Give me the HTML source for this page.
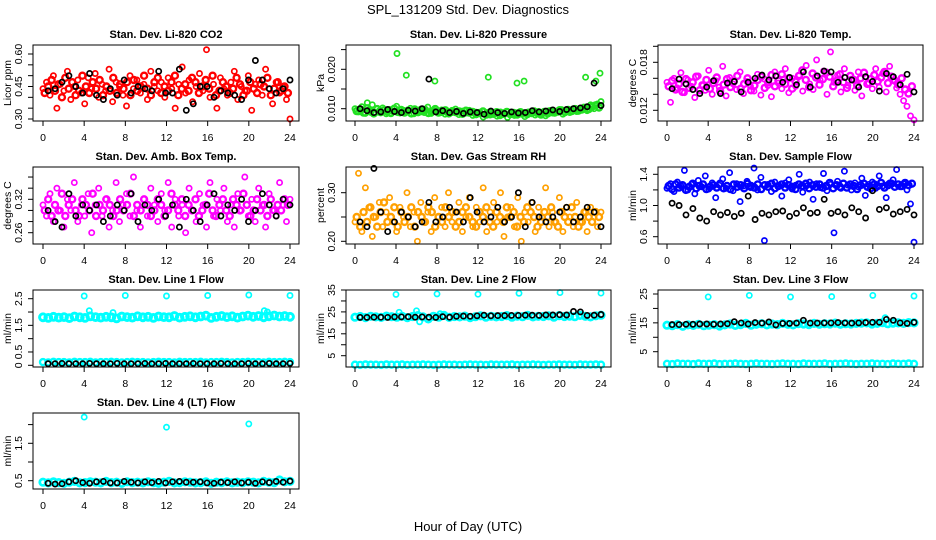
<!DOCTYPE html>
<html><head><meta charset="utf-8"><style>
html,body{margin:0;padding:0;background:#fff;}
svg{display:block;font-family:"Liberation Sans",sans-serif;}
</style></head><body>
<svg id="chart" width="936" height="540" viewBox="0 0 936 540" xmlns="http://www.w3.org/2000/svg">
<rect width="936" height="540" fill="#fff"/>
<text x="468" y="14" font-size="13" text-anchor="middle">SPL_131209  Std. Dev. Diagnostics</text>
<text x="468" y="531" font-size="13" text-anchor="middle">Hour of Day (UTC)</text>
</svg>
<script>
// ---------- data ----------
const hourTicks = [0,4,8,12,16,20,24];

const co2Red = [0.44,0.47,0.41,0.50,0.35,0.46,0.43,0.52,0.39,0.45,0.48,0.42,0.37,0.49,0.44,0.51,0.40,0.46,0.43,0.53,0.38,0.47,0.45,0.41,0.36,0.50,0.44,0.48,0.42,0.46,0.39,0.52,0.45,0.43,0.47,0.40,0.49,0.44,0.35,0.46,0.54,0.42,0.48,0.38,0.45,0.51,0.43,0.62,0.40,0.46,0.35,0.49,0.44,0.41,0.47,0.52,0.39,0.45,0.43,0.50,0.34,0.46,0.48,0.41,0.53,0.44,0.37,0.47,0.42,0.45,0.39,0.30];
const co2Red2 = [0.42,0.45,0.48,0.43,0.46,0.40,0.49,0.44,0.47,0.41,0.43,0.50,0.45,0.42,0.47,0.44,0.48,0.41,0.45,0.43,0.49,0.42,0.46,0.44,0.47,0.41,0.48,0.43,0.45,0.50,0.44,0.41,0.47,0.49,0.42,0.45,0.43,0.47,0.50,0.41,0.44,0.46,0.43,0.49,0.47,0.42,0.45,0.48,0.44,0.50,0.41,0.43,0.47,0.45,0.42,0.44,0.49,0.46,0.41,0.43,0.47,0.44,0.42,0.46,0.45,0.49,0.41,0.44,0.47,0.43,0.45,0.42];
const co2Black = [0.43,0.44,0.47,0.50,0.45,0.42,0.51,0.41,0.39,0.44,0.41,0.48,0.42,0.45,0.44,0.43,0.52,0.42,0.42,0.53,0.34,0.37,0.45,0.45,0.40,0.43,0.42,0.41,0.39,0.48,0.57,0.48,0.44,0.42,0.44,0.48];

const presGreen = [0.0100,0.0092,0.0105,0.0088,0.0097,0.0110,0.0090,0.0095,0.0102,0.0087,0.0098,0.0093,0.0106,0.0089,0.0096,0.0091,0.0101,0.0087,0.0094,0.0099,0.0090,0.0104,0.0088,0.0095,0.0092,0.0097,0.0086,0.0093,0.0090,0.0099,0.0085,0.0094,0.0089,0.0096,0.0083,0.0091,0.0087,0.0079,0.0090,0.0084,0.0088,0.0081,0.0092,0.0085,0.0078,0.0089,0.0083,0.0090,0.0086,0.0080,0.0092,0.0087,0.0084,0.0093,0.0088,0.0082,0.0095,0.0089,0.0091,0.0098,0.0086,0.0094,0.0090,0.0100,0.0093,0.0097,0.0104,0.0095,0.0110,0.0100,0.0112,0.0118];
const presGreen2 = [0.0094,0.0098,0.0090,0.0101,0.0093,0.0088,0.0099,0.0091,0.0096,0.0093,0.0089,0.0100,0.0092,0.0097,0.0090,0.0095,0.0088,0.0098,0.0091,0.0094,0.0097,0.0089,0.0093,0.0099,0.0090,0.0092,0.0096,0.0088,0.0094,0.0091,0.0093,0.0087,0.0095,0.0090,0.0092,0.0086,0.0089,0.0093,0.0085,0.0090,0.0087,0.0091,0.0084,0.0088,0.0092,0.0086,0.0089,0.0085,0.0091,0.0088,0.0086,0.0090,0.0093,0.0089,0.0085,0.0092,0.0088,0.0094,0.0090,0.0093,0.0096,0.0091,0.0097,0.0094,0.0099,0.0095,0.0098,0.0102,0.0099,0.0105,0.0108,0.0103];
const presSpikeHour = [1.2,4.1,5.0,7.8,12.1,13.0,15.8,16.5,20.1,22.5,23.5,23.9];
const presSpikeVal = [0.0115,0.0240,0.0185,0.0170,0.0265,0.0180,0.0165,0.0170,0.0265,0.0180,0.0170,0.0190];
const presBlack = [0.0100,0.0095,0.0090,0.0092,0.0098,0.0093,0.0090,0.0096,0.0094,0.0100,0.0175,0.0092,0.0095,0.0090,0.0093,0.0088,0.0092,0.0090,0.0086,0.0094,0.0090,0.0088,0.0092,0.0089,0.0090,0.0095,0.0092,0.0094,0.0097,0.0093,0.0098,0.0100,0.0102,0.0105,0.0165,0.0108];

const tempMag = [0.0155,0.0130,0.0160,0.0148,0.0167,0.0142,0.0158,0.0150,0.0136,0.0163,0.0152,0.0145,0.0170,0.0140,0.0157,0.0149,0.0175,0.0138,0.0161,0.0153,0.0146,0.0168,0.0141,0.0156,0.0150,0.0144,0.0165,0.0139,0.0159,0.0151,0.0137,0.0168,0.0154,0.0147,0.0172,0.0142,0.0160,0.0150,0.0164,0.0144,0.0176,0.0153,0.0146,0.0183,0.0158,0.0169,0.0140,0.0193,0.0155,0.0164,0.0143,0.0172,0.0151,0.0159,0.0145,0.0168,0.0138,0.0162,0.0154,0.0147,0.0172,0.0149,0.0166,0.0143,0.0175,0.0158,0.0148,0.0140,0.0132,0.0125,0.0113,0.0108];
const tempMag2 = [0.0150,0.0157,0.0146,0.0153,0.0143,0.0159,0.0148,0.0155,0.0162,0.0145,0.0151,0.0158,0.0147,0.0154,0.0161,0.0144,0.0152,0.0159,0.0149,0.0156,0.0163,0.0147,0.0153,0.0160,0.0145,0.0151,0.0158,0.0162,0.0148,0.0155,0.0164,0.0150,0.0157,0.0165,0.0153,0.0160,0.0147,0.0156,0.0163,0.0170,0.0158,0.0149,0.0166,0.0161,0.0152,0.0159,0.0167,0.0162,0.0150,0.0157,0.0165,0.0155,0.0148,0.0163,0.0158,0.0151,0.0160,0.0167,0.0153,0.0159,0.0164,0.0156,0.0161,0.0168,0.0154,0.0162,0.0157,0.0152,0.0160,0.0146,0.0141,0.0150];
const tempBlack = [0.0147,0.0159,0.0153,0.0146,0.0141,0.0149,0.0157,0.0141,0.0154,0.0156,0.0143,0.0155,0.0160,0.0164,0.0158,0.0163,0.0155,0.0161,0.0152,0.0168,0.0149,0.0163,0.0169,0.0168,0.0155,0.0161,0.0158,0.0149,0.0162,0.0156,0.0144,0.0166,0.0162,0.0152,0.0165,0.0143];

const ambMag = [0.31,0.29,0.33,0.28,0.34,0.30,0.27,0.32,0.30,0.35,0.28,0.31,0.29,0.33,0.26,0.31,0.34,0.29,0.32,0.27,0.30,0.35,0.28,0.31,0.33,0.29,0.36,0.30,0.27,0.32,0.29,0.34,0.31,0.28,0.33,0.30,0.35,0.27,0.32,0.29,0.31,0.26,0.34,0.30,0.28,0.33,0.31,0.27,0.35,0.29,0.32,0.30,0.34,0.28,0.31,0.27,0.33,0.30,0.36,0.29,0.32,0.28,0.34,0.31,0.27,0.33,0.30,0.29,0.35,0.31,0.28,0.32];
const ambMag2 = [0.30,0.32,0.29,0.31,0.30,0.33,0.29,0.31,0.32,0.30,0.29,0.32,0.31,0.30,0.33,0.29,0.31,0.30,0.32,0.31,0.29,0.30,0.32,0.30,0.31,0.33,0.29,0.31,0.30,0.32,0.31,0.29,0.30,0.32,0.31,0.29,0.30,0.33,0.31,0.30,0.32,0.29,0.31,0.30,0.32,0.29,0.30,0.31,0.33,0.30,0.29,0.31,0.32,0.30,0.29,0.32,0.31,0.30,0.33,0.31,0.29,0.30,0.32,0.30,0.31,0.29,0.32,0.30,0.31,0.30,0.32,0.31];
const ambBlack = [0.30,0.28,0.27,0.33,0.29,0.31,0.30,0.31,0.28,0.29,0.31,0.30,0.33,0.28,0.31,0.30,0.32,0.29,0.31,0.27,0.32,0.30,0.28,0.31,0.33,0.29,0.31,0.30,0.32,0.28,0.30,0.33,0.31,0.29,0.32,0.31];

const rhOrange = [0.24,0.34,0.22,0.31,0.27,0.21,0.25,0.28,0.23,0.26,0.29,0.24,0.22,0.27,0.25,0.30,0.23,0.26,0.20,0.28,0.24,0.26,0.22,0.29,0.25,0.27,0.23,0.30,0.24,0.26,0.28,0.22,0.25,0.29,0.23,0.27,0.24,0.31,0.22,0.26,0.28,0.24,0.30,0.21,0.25,0.27,0.23,0.29,0.20,0.26,0.24,0.28,0.22,0.27,0.25,0.31,0.23,0.26,0.24,0.29,0.22,0.27,0.25,0.23,0.28,0.24,0.26,0.22,0.27,0.25,0.23,0.26];
const rhOrange2 = [0.25,0.23,0.26,0.24,0.27,0.25,0.23,0.26,0.28,0.24,0.25,0.27,0.23,0.26,0.24,0.25,0.27,0.23,0.26,0.25,0.24,0.27,0.26,0.23,0.25,0.24,0.27,0.25,0.26,0.23,0.24,0.26,0.27,0.25,0.24,0.23,0.26,0.25,0.27,0.24,0.23,0.26,0.25,0.24,0.27,0.25,0.26,0.23,0.25,0.24,0.27,0.26,0.25,0.23,0.24,0.26,0.25,0.27,0.24,0.23,0.26,0.25,0.24,0.27,0.25,0.23,0.24,0.26,0.25,0.24,0.26,0.25];
const rhBlack = [0.24,0.23,0.35,0.26,0.22,0.24,0.26,0.25,0.23,0.24,0.28,0.24,0.25,0.27,0.26,0.24,0.29,0.26,0.24,0.25,0.27,0.24,0.25,0.30,0.23,0.28,0.25,0.24,0.25,0.26,0.27,0.24,0.25,0.27,0.26,0.23];

const flowBlue = [1.22,1.28,1.18,1.30,1.25,1.45,1.20,1.27,1.15,1.32,1.24,1.38,1.21,1.29,1.10,1.26,1.34,1.22,1.42,1.19,1.28,1.05,1.25,1.31,1.23,1.48,1.20,1.36,0.55,1.27,1.18,1.30,1.24,1.12,1.29,1.33,1.21,1.26,1.40,1.17,1.25,1.30,1.08,1.28,1.23,1.41,1.19,1.27,0.65,1.31,1.22,1.44,1.26,1.20,1.29,1.24,1.35,1.13,1.27,1.30,1.22,1.38,1.25,1.10,1.29,1.33,1.46,1.24,1.28,1.20,1.02,0.53];
const flowBlue2 = [1.25,1.21,1.27,1.23,1.26,1.20,1.24,1.28,1.22,1.25,1.27,1.21,1.24,1.26,1.23,1.28,1.22,1.25,1.21,1.27,1.24,1.26,1.22,1.28,1.25,1.23,1.27,1.21,1.26,1.24,1.28,1.22,1.25,1.27,1.23,1.26,1.24,1.21,1.27,1.25,1.28,1.22,1.26,1.24,1.27,1.23,1.25,1.29,1.22,1.26,1.24,1.28,1.23,1.27,1.25,1.21,1.26,1.28,1.24,1.22,1.27,1.25,1.29,1.23,1.26,1.28,1.24,1.27,1.25,1.29,1.26,1.28];
const flowBlack = [1.03,1.00,0.88,0.96,0.84,0.80,0.92,0.88,0.91,0.86,0.90,1.12,0.82,0.90,0.88,0.92,0.93,0.86,0.90,0.97,0.90,0.91,1.08,0.90,0.92,0.88,0.97,0.92,0.84,1.19,0.95,0.97,0.89,0.92,0.95,0.88];

const l1Band = [1.80,1.78,1.82,1.79,1.81,1.77,1.83,1.80,1.78,1.84,1.81,1.79,1.82,1.80,1.76,1.83,1.81,1.79,1.84,1.80,1.82,1.78,1.83,1.81,1.80,1.85,1.79,1.82,1.84,1.80,1.83,1.86,1.78,1.82,1.85,1.81,1.84,1.79,1.83,1.86,1.82,1.85,1.80,1.84,1.87,1.83,1.85,1.82];
const l1Low = [0.12,0.11,0.13,0.12,0.12,0.11,0.13,0.12,0.12,0.13,0.11,0.12,0.12,0.13,0.12,0.11,0.12,0.13,0.12,0.12,0.11,0.12,0.13,0.12,0.12,0.11,0.13,0.12,0.12,0.12,0.13,0.11,0.12,0.12,0.13,0.12,0.11,0.12,0.12,0.13,0.12,0.12,0.11,0.13,0.12,0.12,0.13,0.12];
const l1Black = [0.06,0.06,0.07,0.06,0.06,0.06,0.07,0.06,0.06,0.06,0.07,0.06,0.06,0.06,0.07,0.06,0.06,0.07,0.06,0.06,0.06,0.07,0.06,0.06,0.06,0.07,0.06,0.06,0.06,0.07,0.06,0.06,0.07,0.06,0.06,0.07];
const l1SpikeHour = [4.0,4.5,6.8,8.0,12.0,16.0,20.0,21.5,21.8,24.0];
const l1SpikeVal = [2.60,2.05,1.98,2.62,2.60,2.62,2.64,2.05,2.00,2.62];

const l2Band = [22.6,22.9,22.4,23.0,22.7,22.5,23.1,22.8,22.6,23.0,22.4,22.9,23.3,22.7,21.8,23.0,22.6,23.4,22.5,22.9,22.7,23.1,22.4,22.8,23.2,22.6,23.0,22.7,22.9,23.3,22.6,23.1,22.8,23.4,22.7,23.0,22.9,23.2,22.6,23.3,22.9,23.1,22.8,23.4,23.0,22.7,23.2,23.5];
const l2Low = [0.9,0.8,1.0,0.9,0.9,0.8,1.0,0.9,0.9,1.0,0.8,0.9,0.9,1.0,0.9,0.8,0.9,1.0,0.9,0.9,0.8,0.9,1.0,0.9,0.9,0.8,1.0,0.9,0.9,0.9,1.0,0.8,0.9,0.9,1.0,0.9,0.8,0.9,0.9,1.0,0.9,0.9,0.8,1.0,0.9,0.9,1.0,0.9];
const l2Black = [22.5,22.5,22.6,22.6,22.5,22.7,22.7,22.8,22.6,22.7,22.6,22.5,22.8,22.6,23.0,23.1,23.0,23.2,23.5,23.2,23.3,23.3,23.4,23.4,23.5,23.5,23.4,23.6,23.6,23.7,23.6,25.2,25.0,23.4,23.5,23.8];
const l2SpikeHour = [4.0,4.3,6.0,6.3,8.0,8.3,12.0,16.0,20.0,24.0];
const l2SpikeVal = [33.0,24.8,25.5,20.5,33.2,24.2,33.1,33.5,33.8,33.6];

const l3Band = [14.2,14.0,14.4,13.8,14.3,14.1,14.5,14.0,14.2,14.4,13.9,14.3,14.6,14.1,14.4,14.8,14.2,14.5,14.7,14.3,14.6,14.4,14.8,14.5,14.3,14.7,14.6,14.4,14.8,14.5,14.7,14.6,14.9,14.5,14.7,14.6,14.8,14.9,15.0,14.6,14.8,15.1,14.7,14.9,15.0,14.8,15.1,15.0];
const l3Low = [0.8,0.7,0.9,0.8,0.8,0.7,0.9,0.8,0.8,0.9,0.7,0.8,0.8,0.9,0.8,0.7,0.8,0.9,0.8,0.8,0.7,0.8,0.9,0.8,0.8,0.7,0.9,0.8,0.8,0.8,0.9,0.7,0.8,0.8,0.9,0.8,0.7,0.8,0.8,0.9,0.8,0.8,0.7,0.9,0.8,0.8,0.9,0.8];
const l3Black = [14.4,14.4,14.5,14.5,14.6,14.6,14.5,14.6,14.7,15.4,15.0,14.6,15.1,14.9,15.3,14.3,14.8,14.8,14.9,15.9,14.9,14.9,15.0,15.0,15.1,15.0,14.9,15.0,15.1,15.2,15.2,16.2,15.9,15.0,14.8,15.2];
const l3SpikeHour = [4.0,8.0,12.0,16.0,20.0,21.2,24.0];
const l3SpikeVal = [24.0,24.5,24.0,24.1,24.5,16.8,24.3];

const l4Band = [0.46,0.44,0.47,0.45,0.43,0.46,0.48,0.44,0.45,0.47,0.46,0.44,0.48,0.45,0.46,0.43,0.47,0.45,0.46,0.44,0.47,0.45,0.43,0.46,0.48,0.44,0.45,0.47,0.46,0.44,0.45,0.47,0.43,0.46,0.45,0.47,0.44,0.46,0.45,0.47,0.46,0.44,0.48,0.46,0.45,0.52,0.47,0.48];
const l4Black = [0.43,0.41,0.42,0.47,0.50,0.45,0.43,0.47,0.48,0.44,0.44,0.48,0.46,0.44,0.47,0.45,0.48,0.44,0.47,0.48,0.46,0.46,0.47,0.44,0.43,0.46,0.45,0.47,0.44,0.46,0.43,0.47,0.45,0.48,0.46,0.49];
const l4SpikeHour = [4.0,12.0,20.0];
const l4SpikeVal = [2.20,1.93,2.02];

// ---------- rendering ----------
const NS = 'http://www.w3.org/2000/svg';
const svg = document.getElementById('chart');
const cols = [{l:33,r:299,x0:43,x1:290},{l:346,r:611,x0:355,x1:601},{l:658,r:923,x0:667,x1:914}];
const rows = [{t:45,b:121},{t:167,b:244},{t:290,b:367},{t:413,b:489}];

function mk(tag, attrs, parent){
  const e = document.createElementNS(NS, tag);
  for (const k in attrs) e.setAttribute(k, attrs[k]);
  (parent||svg).appendChild(e);
  return e;
}
function linScale(d0,p0,d1,p1){ return v => p0 + (v-d0)*(p1-p0)/(d1-d0); }
function idxHours(n, a, b){ const out=[]; for(let i=0;i<n;i++) out.push(a + i*(b-a)/(n-1)); return out; }

function panel(cfg){
  const c = cols[cfg.col], rw = rows[cfg.row];
  const g = mk('g', {});
  
  
  const xs = linScale(0, c.x0, 24, c.x1);
  const ys = linScale(cfg.ref[0], cfg.ref[1], cfg.ref[2], cfg.ref[3]);
  const cx = (c.l + c.r)/2;
  const title = mk('text', {x:cx, y:rw.t-7, 'font-size':11, 'font-weight':'bold', 'text-anchor':'middle'}, g);
  title.textContent = cfg.title;
  
  
  const pts = mk('g', {fill:'none'}, g);
  
  
  cfg.series.forEach(s => {
    const hrs = s.hours || idxHours(s.vals.length, s.from, s.to);
    const r = s.r || 2.6, sw = s.sw || 1.7;
    s.vals.forEach((v,i) => {
      const y = ys(v);
      if (y < rw.t-1 || y > rw.b+1) return;
      const p = mk('circle', {cx:xs(hrs[i]).toFixed(1), cy:y.toFixed(1), r:r, stroke:s.color, 'stroke-width':sw, fill:'none'}, pts);
      
      
    });
  });
  const box = mk('rect', {x:c.l, y:rw.t, width:c.r-c.l, height:rw.b-rw.t, fill:'none', stroke:'#000', 'stroke-width':1}, g);
  
  
  const xa = mk('g', {}, g);
  
  
  mk('line', {x1:xs(0), x2:xs(24), y1:rw.b, y2:rw.b, stroke:'#000'}, xa);
  hourTicks.forEach(h => {
    mk('line', {x1:xs(h), x2:xs(h), y1:rw.b, y2:rw.b+5, stroke:'#000'}, xa);
    const t = mk('text', {x:xs(h), y:rw.b+20, 'font-size':10.5, 'text-anchor':'middle'}, xa);
    t.textContent = h;
    
    
  });
  const ya = mk('g', {}, g);
  
  
  cfg.ticks.forEach(v => {
    const y = ys(v);
    mk('line', {x1:c.l-5, x2:c.l, y1:y, y2:y, stroke:'#000'}, ya);
  });
  cfg.labels.forEach((lab, i) => {
    const y = ys(cfg.labelVals[i]);
    const t = mk('text', {x:c.l-11, y:y, 'font-size':10.5, 'text-anchor':'middle', transform:`rotate(-90 ${c.l-11} ${y})`}, ya);
    t.textContent = lab;
    
    
  });
  const my = (rw.t+rw.b)/2;
  const yl = mk('text', {x:c.l-22, y:my, 'font-size':10.5, 'text-anchor':'middle', transform:`rotate(-90 ${c.l-22} ${my})`}, g);
  yl.textContent = cfg.ylab;
  
  
}

const RED='#ff0000', BLK='#000000', GRN='#22e022', MAG='#ff00ff', ORG='#ffa000', BLU='#0000ff', CYN='#00ffff';
const BIG = 3.0, BIGW = 2.4;

panel({name:'panel-co2', col:0,row:0,title:'Stan. Dev. Li-820 CO2',ylab:'Licor ppm',ref:[0.30,119,0.60,54],
  ticks:[0.30,0.35,0.40,0.45,0.50,0.55,0.60],labels:['0.30','0.45','0.60'],labelVals:[0.30,0.45,0.60],
  series:[{name:'co2-point',vals:co2Red,from:0,to:24,color:RED},{name:'co2-point',vals:co2Red2,from:0.17,to:23.8,color:RED,r:BIG,sw:BIGW},{name:'co2-black-point',vals:co2Black,from:0.5,to:24,color:BLK}]});
panel({name:'panel-pressure', col:1,row:0,title:'Stan. Dev. Li-820 Pressure',ylab:'kPa',ref:[0.010,108.7,0.020,69.3],
  ticks:[0.010,0.015,0.020,0.025],labels:['0.010','0.020'],labelVals:[0.010,0.020],
  series:[{name:'pressure-point',vals:presGreen,from:0,to:24,color:GRN},{name:'pressure-point',vals:presGreen2,from:0.17,to:23.8,color:GRN,r:BIG,sw:BIGW},{name:'pressure-spike',vals:presSpikeVal,hours:presSpikeHour,color:GRN},{name:'pressure-black-point',vals:presBlack,from:0.5,to:24,color:BLK}]});
panel({name:'panel-temp', col:2,row:0,title:'Stan. Dev. Li-820 Temp.',ylab:'degrees C',ref:[0.012,110.3,0.018,62.3],
  ticks:[0.012,0.014,0.016,0.018,0.020],labels:['0.012','0.018'],labelVals:[0.012,0.018],
  series:[{name:'temp-point',vals:tempMag,from:0,to:24,color:MAG},{name:'temp-point',vals:tempMag2,from:0.17,to:23.8,color:MAG,r:BIG,sw:BIGW},{name:'temp-black-point',vals:tempBlack,from:0.5,to:24,color:BLK}]});
panel({name:'panel-amb-box-temp', col:0,row:1,title:'Stan. Dev. Amb. Box Temp.',ylab:'degrees C',ref:[0.26,232.7,0.32,199.3],
  ticks:[0.26,0.28,0.30,0.32,0.34,0.36],labels:['0.26','0.32'],labelVals:[0.26,0.32],
  series:[{name:'amb-point',vals:ambMag,from:0,to:24,color:MAG},{name:'amb-point',vals:ambMag2,from:0.17,to:23.8,color:MAG,r:BIG,sw:BIGW},{name:'amb-black-point',vals:ambBlack,from:0.5,to:24,color:BLK}]});
panel({name:'panel-gas-rh', col:1,row:1,title:'Stan. Dev. Gas Stream RH',ylab:'percent',ref:[0.20,241.3,0.30,192.7],
  ticks:[0.20,0.25,0.30],labels:['0.20','0.30'],labelVals:[0.20,0.30],
  series:[{name:'rh-point',vals:rhOrange,from:0,to:24,color:ORG},{name:'rh-point',vals:rhOrange2,from:0.17,to:23.8,color:ORG,r:BIG,sw:BIGW},{name:'rh-black-point',vals:rhBlack,from:0.5,to:24,color:BLK}]});
panel({name:'panel-sample-flow', col:2,row:1,title:'Stan. Dev. Sample Flow',ylab:'ml/min',ref:[0.6,236.7,1.4,174.3],
  ticks:[0.6,0.8,1.0,1.2,1.4],labels:['0.6','1.0','1.4'],labelVals:[0.6,1.0,1.4],
  series:[{name:'sample-flow-point',vals:flowBlue,from:0,to:24,color:BLU},{name:'sample-flow-point',vals:flowBlue2,from:0.17,to:23.8,color:BLU,r:BIG,sw:BIGW},{name:'sample-flow-black-point',vals:flowBlack,from:0.5,to:24,color:BLK}]});
panel({name:'panel-line1-flow', col:0,row:2,title:'Stan. Dev. Line 1 Flow',ylab:'ml/min',ref:[0,365.3,2.5,298.7],
  ticks:[0,0.5,1.0,1.5,2.0,2.5],labels:['0','0.5','1.5','2.5'],labelVals:[0,0.5,1.5,2.5],
  series:[{name:'line1-band-point',vals:l1Band,from:0,to:24,color:CYN,r:3.4,sw:3},{name:'line1-low-point',vals:l1Low,from:0,to:24,color:CYN,r:3,sw:2.4},{name:'line1-spike',vals:l1SpikeVal,hours:l1SpikeHour,color:CYN},{name:'line1-black-point',vals:l1Black,from:0.5,to:24,color:BLK}]});
panel({name:'panel-line2-flow', col:1,row:2,title:'Stan. Dev. Line 2 Flow',ylab:'ml/min',ref:[5,355.7,35,290],
  ticks:[5,10,15,20,25,30,35],labels:['5','15','25','35'],labelVals:[5,15,25,35],
  series:[{name:'line2-band-point',vals:l2Band,from:0,to:24,color:CYN,r:3.2,sw:2.8},{name:'line2-low-point',vals:l2Low,from:0,to:24,color:CYN,r:3,sw:2.4},{name:'line2-spike',vals:l2SpikeVal,hours:l2SpikeHour,color:CYN},{name:'line2-black-point',vals:l2Black,from:0.5,to:24,color:BLK}]});
panel({name:'panel-line3-flow', col:2,row:2,title:'Stan. Dev. Line 3 Flow',ylab:'ml/min',ref:[5,351.7,25,294],
  ticks:[5,10,15,20,25],labels:['5','15','25'],labelVals:[5,15,25],
  series:[{name:'line3-band-point',vals:l3Band,from:0,to:24,color:CYN,r:3.2,sw:2.8},{name:'line3-low-point',vals:l3Low,from:0,to:24,color:CYN,r:3,sw:2.4},{name:'line3-spike',vals:l3SpikeVal,hours:l3SpikeHour,color:CYN},{name:'line3-black-point',vals:l3Black,from:0.5,to:24,color:BLK}]});
panel({name:'panel-line4-flow', col:0,row:3,title:'Stan. Dev. Line 4 (LT) Flow',ylab:'ml/min',ref:[0.5,480.7,1.5,443.3],
  ticks:[0.5,1.0,1.5,2.0],labels:['0.5','1.5'],labelVals:[0.5,1.5],
  series:[{name:'line4-band-point',vals:l4Band,from:0,to:24,color:CYN,r:3.2,sw:2.8},{name:'line4-spike',vals:l4SpikeVal,hours:l4SpikeHour,color:CYN},{name:'line4-black-point',vals:l4Black,from:0.5,to:24,color:BLK}]});
</script>
</body></html>
